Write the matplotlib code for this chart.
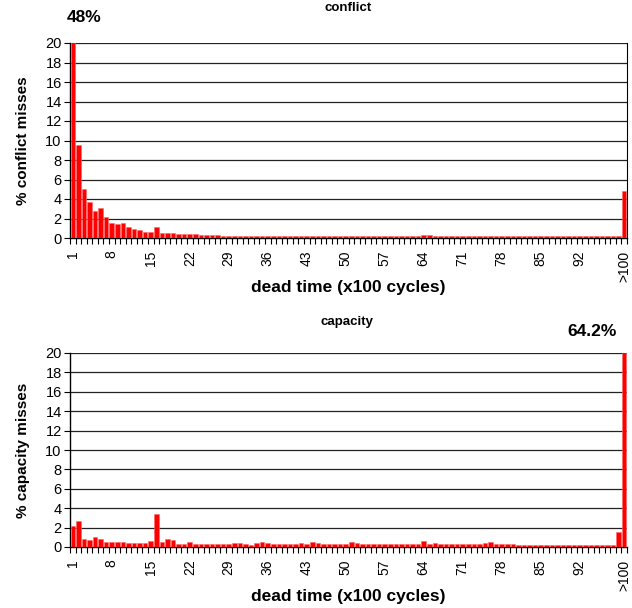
import matplotlib
matplotlib.use('Agg')
import matplotlib.pyplot as plt
import numpy as np

plt.rcParams['font.family'] = ['Liberation Sans', 'DejaVu Sans']

# categories: dead time buckets 1..99 and ">100"
categories = [str(i) for i in range(1, 100)] + ['>100']

conflict = [48.0, 9.57, 5.06, 3.66, 2.77, 3.11, 2.15, 1.5, 1.44, 1.5,
            1.16, 0.96, 0.79, 0.62, 0.62, 1.16, 0.55, 0.55, 0.48, 0.41,
            0.41, 0.38, 0.38, 0.34, 0.3, 0.27, 0.26, 0.25, 0.25, 0.24,
            0.24, 0.23, 0.23, 0.22, 0.22, 0.21, 0.21, 0.21, 0.2, 0.2,
            0.2, 0.2, 0.2, 0.2, 0.2, 0.2, 0.2, 0.2, 0.19, 0.19,
            0.19, 0.19, 0.19, 0.19, 0.19, 0.19, 0.19, 0.19, 0.19, 0.19,
            0.19, 0.19, 0.19, 0.32, 0.28, 0.18, 0.18, 0.18, 0.18, 0.18,
            0.17, 0.17, 0.17, 0.17, 0.17, 0.17, 0.17, 0.17, 0.17, 0.17,
            0.17, 0.17, 0.17, 0.17, 0.17, 0.17, 0.17, 0.17, 0.17, 0.17,
            0.17, 0.17, 0.17, 0.17, 0.17, 0.17, 0.17, 0.17, 0.17, 4.8]

capacity = [2.13, 2.65, 0.82, 0.69, 1.03, 0.79, 0.48, 0.55, 0.48, 0.48,
            0.45, 0.41, 0.41, 0.41, 0.58, 3.37, 0.48, 0.82, 0.69, 0.34,
            0.34, 0.48, 0.34, 0.31, 0.27, 0.27, 0.27, 0.27, 0.31, 0.45,
            0.45, 0.27, 0.24, 0.41, 0.55, 0.41, 0.34, 0.34, 0.34, 0.34,
            0.34, 0.38, 0.34, 0.5, 0.38, 0.35, 0.3, 0.3, 0.3, 0.3,
            0.5, 0.38, 0.35, 0.3, 0.32, 0.3, 0.3, 0.32, 0.3, 0.3,
            0.32, 0.3, 0.3, 0.6, 0.35, 0.38, 0.3, 0.3, 0.3, 0.3,
            0.3, 0.3, 0.3, 0.3, 0.4, 0.55, 0.3, 0.28, 0.32, 0.32,
            0.25, 0.25, 0.25, 0.25, 0.25, 0.25, 0.25, 0.25, 0.25, 0.25,
            0.25, 0.25, 0.25, 0.25, 0.25, 0.25, 0.25, 0.25, 1.58, 64.2]

label_idx = list(range(0, 98, 7)) + [99]
yticks = list(range(0, 21, 2))

W, H = 632, 608
fig = plt.figure(figsize=(W / 100, H / 100), dpi=100)


def px(x, y):
    return x / W, 1 - y / H


def panel(top, bottom, values, ylabel, right_spine):
    ax = fig.add_axes([70 / W, 1 - bottom / H, 557 / W, (bottom - top) / H])
    x = np.arange(len(categories))
    ax.bar(x, values, width=0.82, color='#ff0000', edgecolor='#ff6666',
           linewidth=0.4, zorder=3)
    ax.set_xlim(-0.5, len(categories) - 0.5)
    ax.set_ylim(0, 20)
    ax.set_yticks(yticks)
    ax.tick_params(axis='y', labelsize=10.5, length=4, width=0.8, pad=2)
    ax.yaxis.grid(True, color='#222222', linewidth=0.9, zorder=0)
    ax.set_axisbelow(True)
    ax.set_xticks(label_idx)
    ax.set_xticklabels([categories[i] for i in label_idx], rotation=90,
                       fontsize=10)
    ax.tick_params(axis='x', which='major', length=0, pad=9)
    ax.set_xticks(np.arange(-0.5, len(categories)), minor=True)
    ax.tick_params(axis='x', which='minor', length=4, width=0.8)
    ax.spines['top'].set_visible(False)
    ax.spines['right'].set_visible(right_spine)
    ax.spines['left'].set_linewidth(1.0)
    ax.spines['bottom'].set_linewidth(1.0)
    ax.set_ylabel(ylabel, fontsize=11, fontweight='bold')
    ax.yaxis.set_label_coords(-40 / 557, 0.5)
    return ax


ax1 = panel(43, 238, conflict, '% conflict misses', True)
ax2 = panel(353, 547, capacity, '% capacity misses', False)

fig.text(*px(348, 8), 'conflict', ha='center', va='center',
         fontsize=9.5, fontweight='bold')
fig.text(*px(348, 288), 'dead time (x100 cycles)', ha='center', va='center',
         fontsize=12.5, fontweight='bold')
fig.text(*px(67, 18), '48%', ha='left', va='center',
         fontsize=12.5, fontweight='bold')

fig.text(*px(347, 322), 'capacity', ha='center', va='center',
         fontsize=9.5, fontweight='bold')
fig.text(*px(348, 597), 'dead time (x100 cycles)', ha='center', va='center',
         fontsize=12.5, fontweight='bold')
fig.text(*px(617, 332), '64.2%', ha='right', va='center',
         fontsize=12.5, fontweight='bold')

fig.savefig('out.png', dpi=100)
